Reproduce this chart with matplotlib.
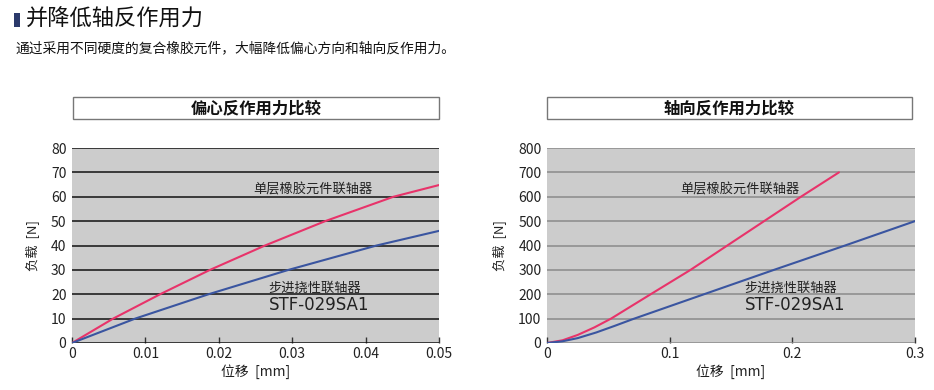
import matplotlib
matplotlib.use("Agg")
import matplotlib.pyplot as plt
from matplotlib.patches import Rectangle

plt.rcParams['font.family'] = ['Noto Sans CJK SC', 'DejaVu Sans']
plt.rcParams['font.size'] = 10

# data
# left: eccentric reaction force, displacement [mm] vs load [N]
ecc_rubber_x = [0, 0.0056, 0.012, 0.0188, 0.0263, 0.0345, 0.0438, 0.05]
ecc_rubber_y = [0, 10, 20, 30, 40, 50, 60, 64.8]
ecc_stf_x = [0, 0.0086, 0.0186, 0.0295, 0.0415, 0.05]
ecc_stf_y = [0, 10, 20, 30, 40, 46]

# right: axial reaction force
ax_rubber_x = [0, 0.0126, 0.025, 0.0386, 0.0522, 0.0845, 0.117, 0.147, 0.177, 0.207, 0.238]
ax_rubber_y = [0, 11, 33, 64, 100, 200, 300, 400, 500, 600, 700]
ax_stf_x = [0, 0.0126, 0.025, 0.04, 0.055, 0.07, 0.128, 0.185, 0.243, 0.3]
ax_stf_y = [0, 7, 20, 43, 70, 98, 200, 300, 400, 500]

ecc_xticks = [0, 0.01, 0.02, 0.03, 0.04, 0.05]
ecc_xlabels = ['0', '0.01', '0.02', '0.03', '0.04', '0.05']
ecc_yticks = [0, 10, 20, 30, 40, 50, 60, 70, 80]
ax_xticks = [0, 0.1, 0.2, 0.3]
ax_xlabels = ['0', '0.1', '0.2', '0.3']
ax_yticks = [0, 100, 200, 300, 400, 500, 600, 700, 800]

red = '#e8336a'
blue = '#3a55a0'
txt = '#222222'

fig = plt.figure(figsize=(9.34, 3.9), dpi=100)
W, H = 934.0, 390.0

# page heading
fig.patches.append(Rectangle((14 / W, 1 - 27 / H), 6 / W, 14 / H, transform=fig.transFigure,
                             facecolor='#2b3a6b', edgecolor='none'))
fig.text(26 / W, 1 - 19 / H, '并降低轴反作用力', fontsize=16, va='center', ha='left', color='#111111')
fig.text(15 / W, 1 - 48 / H, '通过采用不同硬度的复合橡胶元件，大幅降低偏心方向和轴向反作用力。',
         fontsize=9.9, va='center', ha='left', color='#111111')


def panel(left, right, box_left, box_right, title, xs, xticks, xlabels, yticks, grid_color,
          r_x, r_y, b_x, b_y, lab1, lab2):
    a = fig.add_axes([left / W, 1 - 343 / H, (right - left) / W, 195 / H])
    a.set_facecolor('#cccccc')
    for s in a.spines.values():
        s.set_visible(False)
    a.plot(r_x, r_y, color=red, lw=1.5, solid_capstyle='round', zorder=3)
    a.plot(b_x, b_y, color=blue, lw=1.5, solid_capstyle='round', zorder=3)
    a.set_xlim(xs)
    a.set_ylim(yticks[0], yticks[-1])
    a.set_xticks(xticks)
    a.set_xticklabels(xlabels)
    a.set_yticks(yticks)
    a.tick_params(axis='x', direction='in', length=4, width=1, color='#333333', pad=3,
                  labelsize=10, labelcolor=txt)
    a.tick_params(axis='y', length=0, pad=4, labelsize=10, labelcolor=txt)
    a.yaxis.grid(True, color=grid_color, lw=1.1)
    a.set_axisbelow(True)
    a.set_xlabel('位移  [mm]', fontsize=10, color=txt, labelpad=2)
    a.set_ylabel('负载  [N]', fontsize=9.5, color=txt, labelpad=8)
    a.text(lab1[0], lab1[1], '单层橡胶元件联轴器', fontsize=9.5, color=txt, ha='left', va='center')
    a.text(lab2[0], lab2[1], '步进挠性联轴器', fontsize=9.5, color=txt, ha='left', va='center')
    a.text(lab2[0], lab2[2], 'STF-029SA1', fontsize=12, color=txt, ha='left', va='center',
           family='DejaVu Sans')
    # title box above the plot
    fig.patches.append(Rectangle((box_left / W, 1 - 119 / H), (box_right - box_left) / W, 22 / H,
                                 transform=fig.transFigure, facecolor='white',
                                 edgecolor='#777777', lw=1))
    fig.text((box_left + box_right) / 2 / W, 1 - 108 / H, title, fontsize=11.8, ha='center',
             va='center', color='#111111', fontweight='bold')
    return a


panel(72, 439, 73, 439, '偏心反作用力比较', (0, 0.05), ecc_xticks, ecc_xlabels, ecc_yticks, '#111111',
      ecc_rubber_x, ecc_rubber_y, ecc_stf_x, ecc_stf_y,
      (0.0247, 62.8), (0.0268, 22.5, 15.5))
panel(547, 915, 547, 912, '轴向反作用力比较', (0, 0.3), ax_xticks, ax_xlabels, ax_yticks, '#8a8a8a',
      ax_rubber_x, ax_rubber_y, ax_stf_x, ax_stf_y,
      (0.109, 628), (0.161, 225, 157))

fig.savefig('out.png', dpi=100)
